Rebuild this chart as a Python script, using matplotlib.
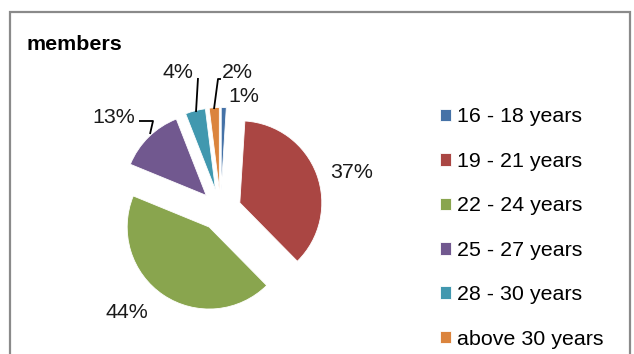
import matplotlib
matplotlib.use("Agg")
import matplotlib.pyplot as plt
from matplotlib.patches import Rectangle
import numpy as np

plt.rcParams['font.family'] = ['Liberation Sans', 'DejaVu Sans']

# Age groups of members and their shares (percent)
categories = ["16 - 18 years", "19 - 21 years", "22 - 24 years",
              "25 - 27 years", "28 - 30 years", "above 30 years"]
shares = [1, 37, 44, 13, 4, 2]
colors = ["#4572A7", "#AA4643", "#89A54E", "#71588F", "#4198AF", "#DB843D"]
title = "members"

W, H = 634, 354
DPI = 100
R_PX = 82.0            # pie radius in pixels
CX, CY = 220.6, 210.0  # pie centre in pixels (from top-left)


def px(x, y):
    """Pixel position (from top-left) -> data coordinates of the pie axes."""
    return (x - CX) / R_PX, (CY - y) / R_PX


fig = plt.figure(figsize=(W / DPI, H / DPI), dpi=DPI)
fig.patch.set_facecolor("white")
ax = fig.add_axes([0, 0, 1, 1])

wedges, _ = ax.pie(shares, colors=colors, startangle=90, counterclock=False,
                   explode=[0.25] * len(shares), radius=1.0,
                   wedgeprops=dict(edgecolor="white", linewidth=0.6))

ax.set_xlim(-CX / R_PX, (W - CX) / R_PX)
ax.set_ylim(-(H - CY) / R_PX, CY / R_PX)
ax.set_aspect("equal", adjustable="box")
ax.set_axis_off()

# Percentage labels
label_pos = [(244, 96), (352, 173), (127, 313), (114, 117), (177.5, 72), (237, 72)]
fs = 15.4
for v, (lx, ly) in zip(shares, label_pos):
    x, y = px(lx, ly)
    ax.text(x, y, f"{v}%", ha="center", va="center", fontsize=fs, color="#1a1a1a")

# Leader lines for the small slices
leaders = [
    [(150, 134), (153, 121), (139, 121)],   # 13%
    [(196, 112), (198, 78)],                # 4%
    [(214, 109), (218, 79), (221, 79)],     # 2%
]
for pts in leaders:
    xy = np.array([px(a, b) for a, b in pts])
    ax.plot(xy[:, 0], xy[:, 1], color="black", lw=1.3, solid_capstyle="butt")

# Title
fig.text(26 / W, 1 - 45 / H, title, ha="left", va="center",
         fontsize=15.4, fontweight="bold", color="black")

# Legend
fig.legend(wedges, categories, loc="upper left",
           bbox_to_anchor=(440 / W, 1 - 107.5 / H), frameon=False,
           fontsize=fs, handlelength=0.53, handleheight=0.53,
           handletextpad=0.25, labelspacing=1.19,
           borderpad=0, borderaxespad=0)

# Chart border
fig.add_artist(Rectangle((9.5 / W, -0.05), (630 - 9.5) / W, (H - 12) / H + 0.05,
                         transform=fig.transFigure, fill=False,
                         edgecolor="#8a8a8a", linewidth=1.6))

fig.savefig("out.png", dpi=DPI, facecolor="white")
